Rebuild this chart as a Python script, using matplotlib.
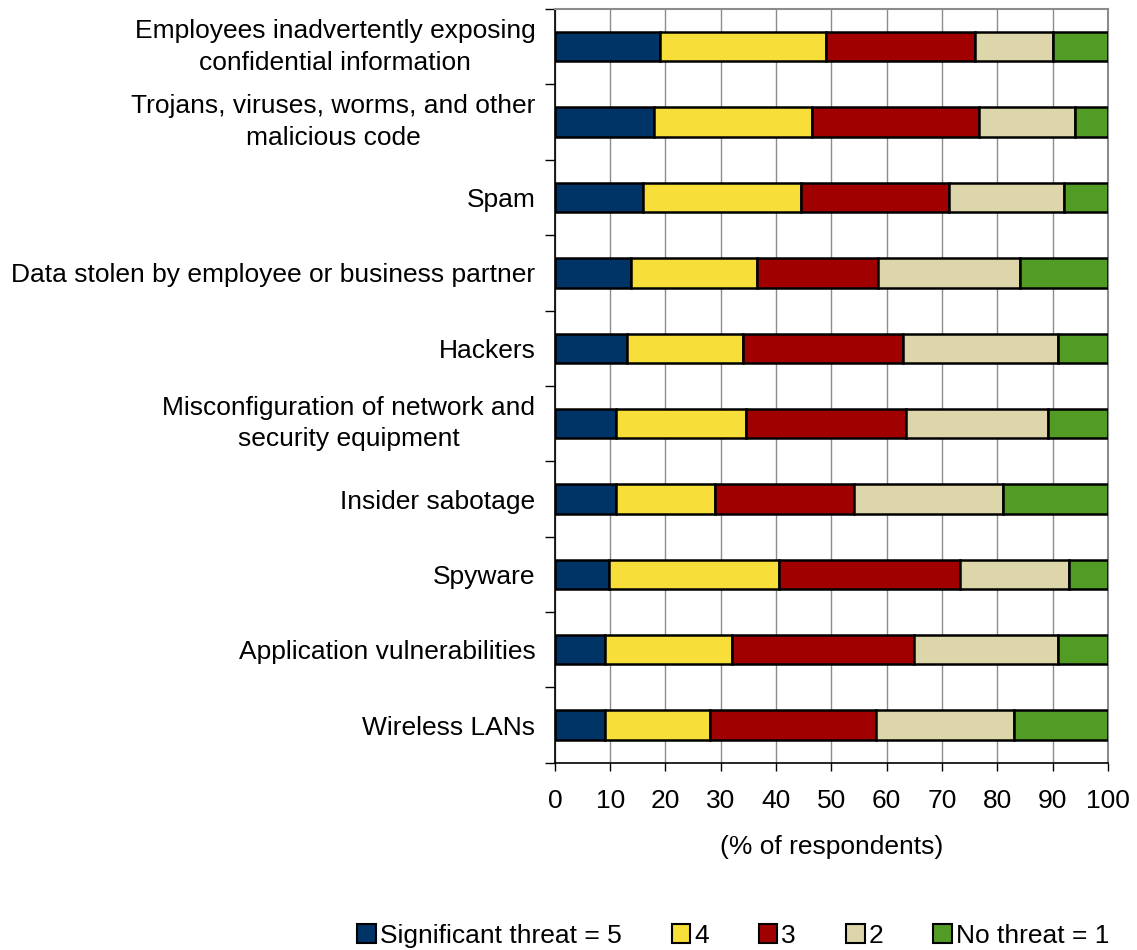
import matplotlib
matplotlib.use("Agg")
import matplotlib.pyplot as plt
import numpy as np
from matplotlib.patches import Patch

plt.rcParams['font.family'] = ['Liberation Sans', 'DejaVu Sans']

categories = [
    "Employees inadvertently exposing\nconfidential information",
    "Trojans, viruses, worms, and other\nmalicious code",
    "Spam",
    "Data stolen by employee or business partner",
    "Hackers",
    "Misconfiguration of network and\nsecurity equipment",
    "Insider sabotage",
    "Spyware",
    "Application vulnerabilities",
    "Wireless LANs",
]
series_names = ["Significant threat = 5", "4", "3", "2", "No threat = 1"]
threat5 = [19.0, 18.0, 15.9, 13.8, 13.0, 11.0, 11.0, 9.8, 9.0, 9.0]
threat4 = [30.0, 28.4, 28.6, 22.7, 21.0, 23.5, 18.0, 30.7, 23.0, 19.0]
threat3 = [27.0, 30.3, 26.8, 21.9, 29.0, 28.9, 25.0, 32.8, 33.0, 30.0]
threat2 = [14.0, 17.3, 20.8, 25.7, 28.0, 25.7, 27.0, 19.7, 26.0, 25.0]
threat1 = [10.0, 6.0, 7.9, 15.9, 9.0, 10.9, 19.0, 7.0, 9.0, 17.0]
x_ticks = [0, 10, 20, 30, 40, 50, 60, 70, 80, 90, 100]

colors = ["#003366", "#F7DE38", "#A00000", "#DDD6AB", "#529B25"]
series = [threat5, threat4, threat3, threat2, threat1]

FS = 19

fig = plt.figure(figsize=(11.37, 9.5), dpi=100)
ax = fig.add_axes([0.488, 0.197, 0.4865, 0.7935])

y = np.arange(len(categories))
left = np.zeros(len(categories))
for vals, c, name in zip(series, colors, series_names):
    ax.barh(y, vals, left=left, height=0.39, color=c, edgecolor="black",
            linewidth=1.8, label=name, zorder=3)
    left += np.array(vals)

ax.set_xlim(0, 100)
ax.set_ylim(len(categories) - 0.5, -0.5)
ax.set_xticks(x_ticks)
ax.set_xticklabels([str(t) for t in x_ticks], fontsize=FS)
ax.tick_params(axis='x', length=6, width=1, color="black", pad=13)
ax.xaxis.grid(True, color="#8c8c8c", linewidth=1, zorder=0)
ax.set_axisbelow(True)

ax.set_yticks(np.arange(-0.5, len(categories), 1.0))
ax.set_yticklabels([])
ax.tick_params(axis='y', which='major', length=7, width=1, color="black")
ax.set_yticks(y, minor=True)
labels = ax.set_yticklabels(categories, minor=True, fontsize=FS,
                            multialignment='center', linespacing=1.4)
for lab in labels:
    if "\n" in lab.get_text():
        lab.set_verticalalignment('center')
ax.tick_params(axis='y', which='minor', length=0, pad=14)

ax.set_xlabel("(% of respondents)", fontsize=FS, labelpad=16)

for s in ["top", "right"]:
    ax.spines[s].set_color("#8c8c8c")
    ax.spines[s].set_linewidth(1.5)
for s in ["left", "bottom"]:
    ax.spines[s].set_color("black")
    ax.spines[s].set_linewidth(1.2)

handles = [Patch(facecolor=c, edgecolor="black", linewidth=1.5) for c in colors]
fig.legend(handles, series_names, loc="center", bbox_to_anchor=(0.645, 0.015),
           ncol=5, frameon=False, fontsize=FS, handlelength=0.7, handleheight=0.7,
           handletextpad=0.15, columnspacing=1.9)

fig.savefig("out.png", dpi=100)
